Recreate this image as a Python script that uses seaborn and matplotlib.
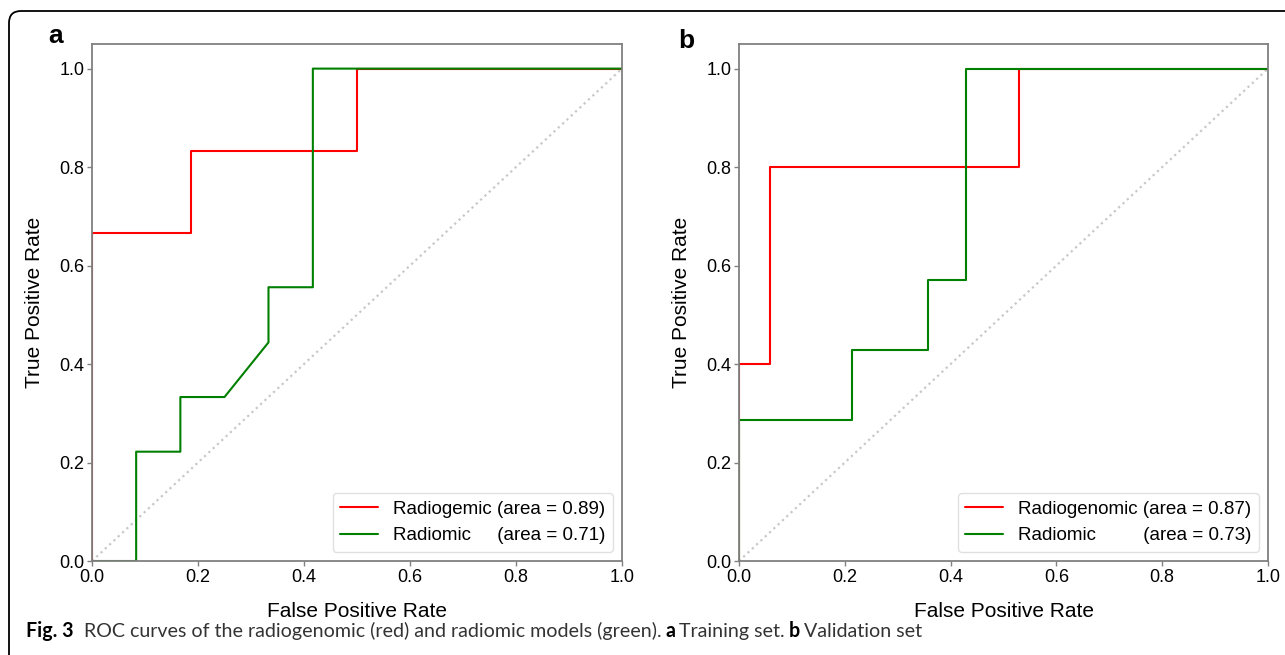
import numpy as np
import pandas as pd
import matplotlib
matplotlib.use("Agg")
import matplotlib.pyplot as plt
from matplotlib.patches import FancyBboxPatch
from matplotlib.transforms import IdentityTransform
import seaborn as sns

# ROC points
# panel a: training set
fpr_rg_a = [0.0, 0.0, 0.1875, 0.1875, 0.5, 0.5, 1.0]
tpr_rg_a = [0.0, 0.667, 0.667, 0.833, 0.833, 1.0, 1.0]
fpr_r_a = [0.0, 0.0833, 0.0833, 0.1667, 0.1667, 0.25, 0.333, 0.333, 0.4167, 0.4167, 1.0]
tpr_r_a = [0.0, 0.0, 0.222, 0.222, 0.333, 0.333, 0.444, 0.556, 0.556, 1.0, 1.0]
labels_a = ["Radiogemic (area = 0.89)", "Radiomic     (area = 0.71)"]

# panel b: validation set
fpr_rg_b = [0.0, 0.0, 0.0588, 0.0588, 0.529, 0.529, 1.0]
tpr_rg_b = [0.0, 0.4, 0.4, 0.8, 0.8, 1.0, 1.0]
fpr_r_b = [0.0, 0.0, 0.2143, 0.2143, 0.357, 0.357, 0.4286, 0.4286, 1.0]
tpr_r_b = [0.0, 0.286, 0.286, 0.429, 0.429, 0.571, 0.571, 1.0, 1.0]
labels_b = ["Radiogenomic (area = 0.87)", "Radiomic         (area = 0.73)"]

ticks = [0.0, 0.2, 0.4, 0.6, 0.8, 1.0]

sns.set_style("ticks")
plt.rcParams["font.family"] = ["Liberation Sans", "DejaVu Sans"]
plt.rcParams["text.color"] = "black"
plt.rcParams["axes.labelcolor"] = "black"

fig = plt.figure(figsize=(12.85, 6.55), dpi=100)
W, H = 1285, 655


def make_df(fpr1, tpr1, fpr2, tpr2, labels):
    d1 = pd.DataFrame({"fpr": fpr1, "tpr": tpr1, "model": labels[0]})
    d2 = pd.DataFrame({"fpr": fpr2, "tpr": tpr2, "model": labels[1]})
    return pd.concat([d1, d2], ignore_index=True)


def roc_panel(ax, df, labels):
    sns.lineplot(data=df, x="fpr", y="tpr", hue="model", hue_order=labels,
                 palette={labels[0]: "red", labels[1]: "green"},
                 sort=False, estimator=None, linewidth=1.5, ax=ax)
    ax.plot([0, 1], [0, 1], linestyle=":", color="#c8c8c8", linewidth=1.6, zorder=0)
    ax.set_xlim(0.0, 1.0)
    ax.set_ylim(0.0, 1.05)
    ax.set_xticks(ticks)
    ax.set_yticks(ticks)
    ax.set_xlabel("False Positive Rate", fontsize=15, labelpad=12)
    ax.set_ylabel("True Positive Rate", fontsize=15, labelpad=11)
    for s in ax.spines.values():
        s.set_visible(True)
        s.set_color("#808080")
        s.set_linewidth(1.3)
    ax.tick_params(axis="both", length=3.5, width=1, color="#808080",
                   labelsize=13, labelcolor="black", pad=2)
    sns.move_legend(ax, "lower right", title=None, fontsize=13.5,
                    frameon=True, edgecolor="0.85", fancybox=True)
    for t in ax.get_legend().get_texts():
        t.set_color("black")


ax_a = fig.add_axes([92 / W, 94 / H, 530 / W, 517 / H])
roc_panel(ax_a, make_df(fpr_rg_a, tpr_rg_a, fpr_r_a, tpr_r_a, labels_a), labels_a)
ax_b = fig.add_axes([739 / W, 94 / H, 529 / W, 517 / H])
roc_panel(ax_b, make_df(fpr_rg_b, tpr_rg_b, fpr_r_b, tpr_r_b, labels_b), labels_b)

fig.text(48 / W, 1 - 43 / H, "a", fontsize=19, fontweight="bold", va="baseline")
fig.text(678 / W, 1 - 48 / H, "b", fontsize=19, fontweight="bold", va="baseline")

# rounded frame around the figure (runs off right and bottom)
frame = FancyBboxPatch((9, -40), 1400, 40 + (H - 11),
                       boxstyle="round,pad=0,rounding_size=12",
                       transform=IdentityTransform(), fill=False,
                       edgecolor="black", linewidth=1.3)
fig.patches.append(frame)

# caption built from pieces so bold parts can be mixed in
cap_font = ["Lato", "DejaVu Sans"]
cap_size = 14.1
pieces = [("Fig. 3", "bold", "black", 10),
          ("ROC curves of the radiogenomic (red) and radiomic models (green).", "normal", "#333333", 4),
          ("a", "bold", "black", 4),
          ("Training set.", "normal", "#333333", 4),
          ("b", "bold", "black", 4),
          ("Validation set", "normal", "#333333", 0)]
renderer = fig.canvas.get_renderer()
x = 26
for txt, weight, col, gap in pieces:
    t = fig.text(x / W, 18 / H, txt, fontsize=cap_size, fontweight=weight,
                 color=col, family=cap_font, va="baseline")
    x += t.get_window_extent(renderer).width + gap

fig.savefig("out.png", dpi=100)
